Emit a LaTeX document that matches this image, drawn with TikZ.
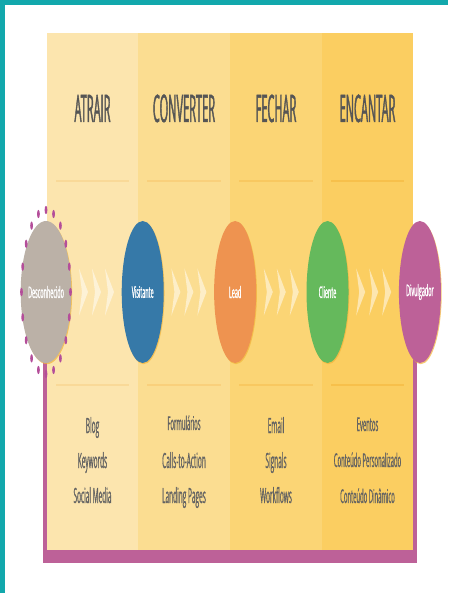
\documentclass[tikz,border=0pt]{standalone}
\usepackage{fontspec}
\setmainfont{Open Sans}
\newfontfamily\headfont[FakeStretch=0.29,FakeBold=1.0]{Open Sans}
\newfontfamily\itemfont[FakeStretch=0.31,FakeBold=0.6]{Open Sans}
\newfontfamily\stagefont[FakeStretch=0.34,FakeBold=0.8]{Open Sans}
\usetikzlibrary{positioning}
\usetikzlibrary{calc}
\usetikzlibrary{shapes.geometric}
\usetikzlibrary{shadows}

\definecolor{bordercol}{HTML}{12A8AC}
\definecolor{framecol}{HTML}{BD6198}
\definecolor{ringcol}{HTML}{B44E9A}
\definecolor{colA}{HTML}{FCE5AE}
\definecolor{colB}{HTML}{FBDD91}
\definecolor{colC}{HTML}{FBD575}
\definecolor{colD}{HTML}{FBCE61}
\definecolor{lineA}{HTML}{F9D998}
\definecolor{lineB}{HTML}{F9D07C}
\definecolor{lineC}{HTML}{F8C860}
\definecolor{lineD}{HTML}{F7C04B}
\definecolor{descfill}{HTML}{BBB1A7}
\definecolor{visitfill}{HTML}{3679A8}
\definecolor{leadfill}{HTML}{EE9350}
\definecolor{clientfill}{HTML}{65B95C}
\definecolor{divulgfill}{HTML}{BD6198}
\definecolor{shadowcol}{HTML}{F2B43A}
\definecolor{headgray}{HTML}{555555}
\definecolor{itemgray}{HTML}{626262}

\begin{document}
\begin{tikzpicture}[x=1pt,y=-1pt,
  stage/.style={ellipse,minimum width=42pt,minimum height=142pt,inner sep=0pt,
    text=white,font=\stagefont\fontsize{16}{16}\selectfont,
    drop shadow={shadow xshift=0.8pt,shadow yshift=-1.2pt,fill=shadowcol,opacity=0.7}},
  head/.style={anchor=base,text=headgray,font=\headfont\fontsize{38}{38}\selectfont},
  item/.style={anchor=base,text=itemgray,font=\itemfont\fontsize{21}{21}\selectfont},
  smallitem/.style={item,font=\itemfont\fontsize{19}{19}\selectfont},
  chev/.pic={\fill[white,opacity=0.5] (-4.5,-23.5) -- (4.5,0) -- (-4.5,23.5) -- (-1.5,0) -- cycle;}]
\useasboundingbox (0,0) rectangle (448,593);
% border and frame
\fill[bordercol] (0,0) rectangle (448,5);
\fill[bordercol] (0,0) rectangle (5,593);
\fill[framecol] (43,292) rectangle (417,563);
% columns
\foreach \x/\y/\c/\l in {47/138/colA/lineA,138/230/colB/lineB,230/322/colC/lineC,322/413/colD/lineD}{
  \fill[\c] (\x,33) rectangle (\y,550);
  \draw[\l,line width=1.2pt] (\x+9,181) -- (\y-9,181) (\x+9,385) -- (\y-9,385);
}
\node[head] (atrair) at (92.5,122) {ATRAIR};
\node[head] (converter) at (184,122) {CONVERTER};
\node[head] (fechar) at (276,122) {FECHAR};
\node[head] (encantar) at (367.5,122) {ENCANTAR};
% stages
\node[stage,fill=descfill] (desc) at (46,292) {Desconhecido};
\node[stage,fill=visitfill,right=50pt of desc] (visit) {Visitante};
\node[stage,fill=leadfill,right=50pt of visit] (lead) {Lead};
\node[stage,fill=clientfill,right=50pt of lead] (cliente) {Cliente};
\node[stage,fill=divulgfill,right=50pt of cliente] (divulg) {Divulgador};
\foreach \a in {0,18,...,342}
  \fill[ringcol] ($(desc.center)+(\a:24.5 and 82)$) ellipse [x radius=1.4, y radius=4.2];
\foreach \a/\b in {desc/visit,visit/lead,lead/cliente,cliente/divulg}
  \foreach \f in {0.24,0.5,0.76}
    \pic at ($(\a.east)!\f!(\b.west)$) {chev};
% tools
\node[item] (blog) at (92.5,433) {Blog};
\node[item] (keywords) at (92.5,468) {Keywords};
\node[item] (social) at (92.5,503) {Social Media};
\node[smallitem] (forms) at (184,430) {Formulários};
\node[item] (cta) at (184,468) {Calls-to-Action};
\node[item] (landing) at (184,503) {Landing Pages};
\node[item] (email) at (276,433) {Email};
\node[item] (signals) at (276,468) {Signals};
\node[item] (workflows) at (276,503) {Workflows};
\node[smallitem] (eventos) at (367.5,431) {Eventos};
\node[smallitem] (personal) at (367.5,467) {Conteúdo Personalizado};
\node[smallitem] (dinamico) at (367.5,503) {Conteúdo Dinâmico};
\end{tikzpicture}
\end{document}
